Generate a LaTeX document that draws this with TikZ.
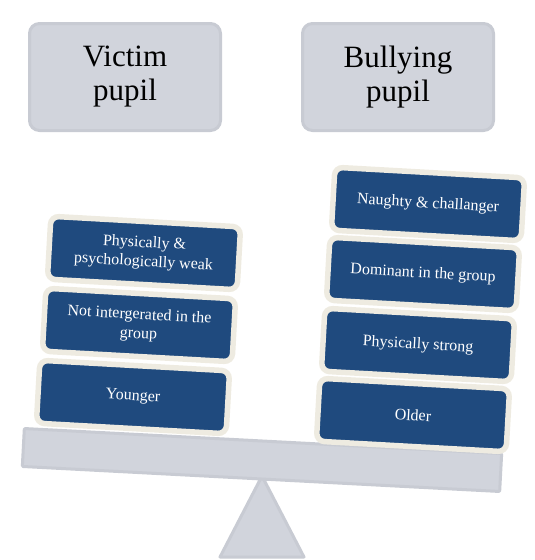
\documentclass[tikz,border=0pt]{standalone}
\usepackage{fontspec}
\setmainfont{Liberation Serif}
\usepackage{tikz}
\usetikzlibrary{positioning,calc}
\definecolor{trblue}{HTML}{1F4A7E}
\definecolor{trcream}{HTML}{EEEBE1}
\definecolor{sawfill}{HTML}{D1D4DC}
\definecolor{sawline}{HTML}{C8CBD3}
\tikzset{
  hd/.style={rectangle,draw=sawline,line width=3pt,fill=sawfill,rounded corners=10pt,minimum width=191pt,minimum height=107pt,align=center,font=\fontsize{31}{34}\selectfont},
  tr/.style={rectangle,draw=trcream,line width=5.5pt,fill=trblue,rounded corners=8pt,minimum width=190pt,minimum height=63pt,align=center,text=white,font=\fontsize{16}{19}\selectfont,rotate=-3.2},
  beam/.style={rectangle,draw=sawline,line width=3pt,fill=sawfill,rounded corners=1pt,minimum width=478pt,minimum height=38pt,rotate=-3},
  stand/.style={draw=sawline,line width=3pt,fill=sawfill,line join=round},
}

\begin{document}
\begin{tikzpicture}[x=1pt,y=-1pt]
  \useasboundingbox (0,0) rectangle (535,560);
  \node[hd] (victim) at (125,77) {Victim\\pupil};
  \node[hd] (bully) at (398,77) {Bullying\\pupil};
  % seesaw
  \draw[stand] (262,476) -- (304,557) -- (220,557) -- cycle;
  \node[beam] (beam) at (262,460) {};
  % victim side
  \node[tr] (weak) at (144,253) {Physically \&\\psychologically weak};
  \node[tr] (notint) at (139,325) {Not intergerated in the\\group};
  \node[tr] (young) at (133,397) {Younger};
  % bullying side
  \node[tr] (naughty) at (428,204) {Naughty \& challanger};
  \node[tr] (dom) at (423,274) {Dominant in the group};
  \node[tr] (strong) at (418,345) {Physically strong};
  \node[tr] (old) at (413,415) {Older};
\end{tikzpicture}
\end{document}
